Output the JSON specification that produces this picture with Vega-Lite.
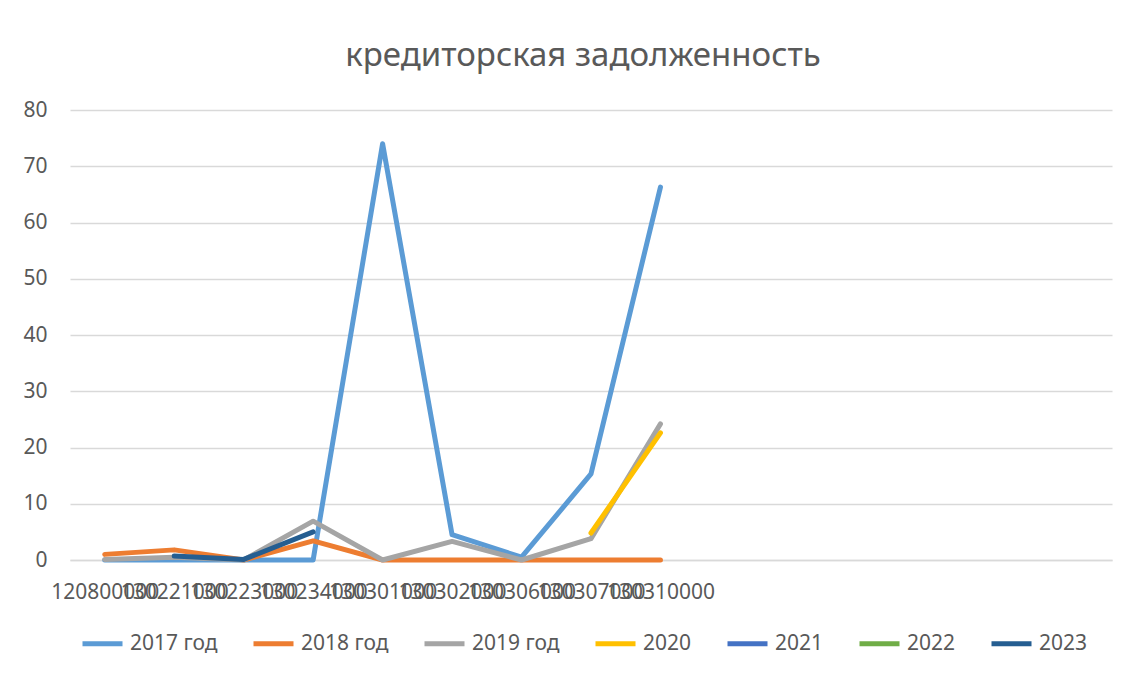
{
  "$schema": "https://vega.github.io/schema/vega-lite/v6.json",
  "width": 1042,
  "height": 450,
  "autosize": {"type": "none"},
  "padding": {"left": 70, "top": 110, "right": 35, "bottom": 117},
  "background": "white",
  "title": {
    "text": "кредиторская задолженность",
    "font": "Noto Sans",
    "fontSize": 33,
    "fontWeight": "normal",
    "color": "#595959",
    "anchor": "middle",
    "frame": "group",
    "offset": 26,
    "dx": -8
  },
  "config": {
    "view": {"stroke": null},
    "font": "Noto Sans"
  },
  "data": {
    "values": [
      {"code": "120800000", "series": "2017 год", "value": 0},
      {"code": "130221000", "series": "2017 год", "value": 0},
      {"code": "130223000", "series": "2017 год", "value": 0},
      {"code": "130234000", "series": "2017 год", "value": 0},
      {"code": "130301000", "series": "2017 год", "value": 74},
      {"code": "130302000", "series": "2017 год", "value": 4.5},
      {"code": "130306000", "series": "2017 год", "value": 0.5},
      {"code": "130307000", "series": "2017 год", "value": 15.3},
      {"code": "130310000", "series": "2017 год", "value": 66.3},
      {"code": "120800000", "series": "2018 год", "value": 1.0},
      {"code": "130221000", "series": "2018 год", "value": 1.8},
      {"code": "130223000", "series": "2018 год", "value": 0},
      {"code": "130234000", "series": "2018 год", "value": 3.4},
      {"code": "130301000", "series": "2018 год", "value": 0},
      {"code": "130302000", "series": "2018 год", "value": 0},
      {"code": "130306000", "series": "2018 год", "value": 0},
      {"code": "130307000", "series": "2018 год", "value": 0},
      {"code": "130310000", "series": "2018 год", "value": 0},
      {"code": "120800000", "series": "2019 год", "value": 0.1},
      {"code": "130221000", "series": "2019 год", "value": 0.5},
      {"code": "130223000", "series": "2019 год", "value": 0},
      {"code": "130234000", "series": "2019 год", "value": 6.9},
      {"code": "130301000", "series": "2019 год", "value": 0},
      {"code": "130302000", "series": "2019 год", "value": 3.3},
      {"code": "130306000", "series": "2019 год", "value": 0},
      {"code": "130307000", "series": "2019 год", "value": 3.8},
      {"code": "130310000", "series": "2019 год", "value": 24.2},
      {"code": "130307000", "series": "2020", "value": 4.8},
      {"code": "130310000", "series": "2020", "value": 22.6},
      {"code": "130221000", "series": "2023", "value": 0.7},
      {"code": "130223000", "series": "2023", "value": 0.1},
      {"code": "130234000", "series": "2023", "value": 5.0}
    ]
  },
  "mark": {"type": "line", "strokeWidth": 5, "strokeCap": "round", "strokeJoin": "round"},
  "encoding": {
    "x": {
      "field": "code",
      "type": "nominal",
      "scale": {
        "type": "point",
        "padding": 0.5,
        "domain": ["120800000", "130221000", "130223000", "130234000", "130301000", "130302000", "130306000", "130307000", "130310000", "e1", "e2", "e3", "e4", "e5", "e6"]
      },
      "axis": {
        "title": null,
        "labelAngle": 0,
        "labelOverlap": false,
        "labelBound": false,
        "labelFlush": false,
        "labelFontSize": 21,
        "labelColor": "#595959",
        "labelPadding": 21,
        "labelExpr": "indexof(datum.value, 'e') === 0 ? '' : datum.value",
        "ticks": false,
        "domain": true,
        "domainColor": "#D9D9D9",
        "domainWidth": 1.3,
        "grid": false
      }
    },
    "y": {
      "field": "value",
      "type": "quantitative",
      "scale": {"domain": [0, 80], "nice": false},
      "axis": {
        "title": null,
        "values": [0, 10, 20, 30, 40, 50, 60, 70, 80],
        "labelFontSize": 21,
        "labelColor": "#595959",
        "labelPadding": 23,
        "ticks": false,
        "domain": false,
        "grid": true,
        "gridColor": "#D9D9D9",
        "gridWidth": 1.3
      }
    },
    "color": {
      "field": "series",
      "type": "nominal",
      "scale": {
        "domain": ["2017 год", "2018 год", "2019 год", "2020", "2021", "2022", "2023"],
        "range": ["#5B9BD5", "#ED7D31", "#A5A5A5", "#FFC000", "#4472C4", "#70AD47", "#255E91"]
      },
      "legend": {
        "title": null,
        "orient": "none",
        "legendX": 10,
        "legendY": 511,
        "direction": "horizontal",
        "symbolType": "stroke",
        "symbolSize": 1600,
        "symbolStrokeWidth": 5,
        "labelFontSize": 21,
        "labelColor": "#595959",
        "labelOffset": 5,
        "columnPadding": 25,
        "padding": 0
      }
    }
  }
}
